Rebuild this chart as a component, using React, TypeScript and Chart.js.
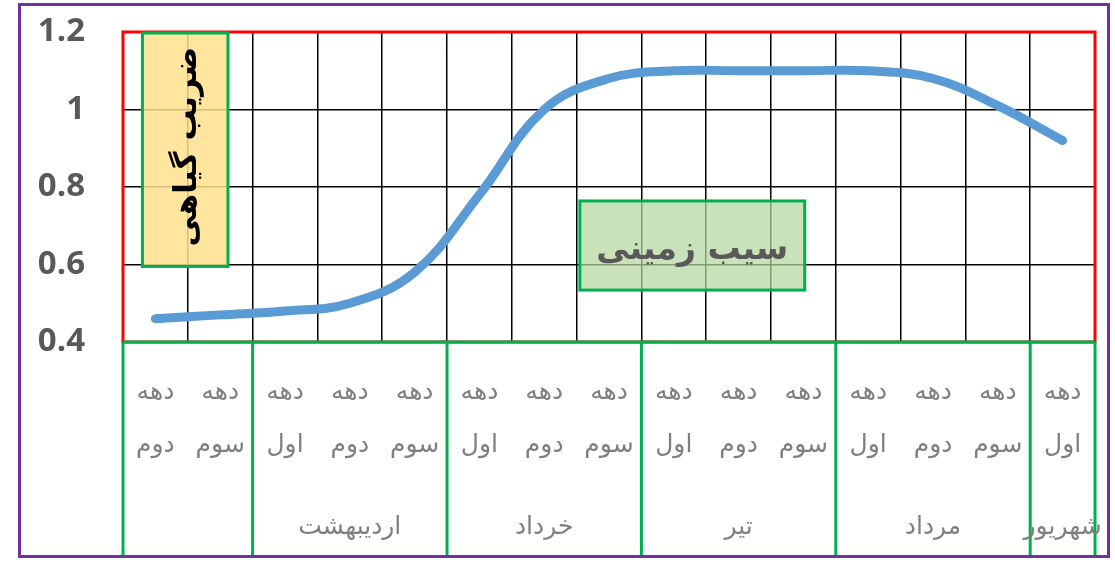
import React, { useEffect, useRef } from "react";
import { Chart, registerables } from "chart.js";
Chart.register(...registerables);

// ---- data ----
const decadeLabels: string[][] = [
  ["دهه", "دوم"], ["دهه", "سوم"],
  ["دهه", "اول"], ["دهه", "دوم"], ["دهه", "سوم"],
  ["دهه", "اول"], ["دهه", "دوم"], ["دهه", "سوم"],
  ["دهه", "اول"], ["دهه", "دوم"], ["دهه", "سوم"],
  ["دهه", "اول"], ["دهه", "دوم"], ["دهه", "سوم"],
  ["دهه", "اول"],
];
const monthNames: string[] = ["", "اردیبهشت", "خرداد", "تیر", "مرداد", "شهریور"];
const monthSpans: number[] = [2, 3, 3, 3, 3, 1];
const kcValues: number[] = [0.46, 0.47, 0.48, 0.5, 0.58, 0.78, 1.0, 1.08, 1.1, 1.1, 1.1, 1.1, 1.08, 1.01, 0.92];
const yTickLabels: string[] = ["0.4", "0.6", "0.8", "1", "1.2"];
const yAxisTitle = "ضریب گیاهی";
const cropName = "سیب زمینی";

const ARABIC_FONT = "'DejaVu Sans', sans-serif";

const decorPlugin = {
  id: "decor",
  beforeDatasetsDraw(chart: any) {
    const { ctx, chartArea: a } = chart;
    ctx.save();
    ctx.strokeStyle = "#FF0000";
    ctx.lineWidth = 3;
    ctx.strokeRect(a.left, a.top, a.right - a.left, a.bottom - a.top);
    ctx.restore();
  },
  afterDraw(chart: any) {
    const { ctx, chartArea: a } = chart;
    const xs = chart.scales.x;
    const ys = chart.scales.y;
    ctx.save();

    // yellow title box
    const yb = {
      l: xs.getPixelForValue(-0.2),
      r: xs.getPixelForValue(1.12),
      t: ys.getPixelForValue(1.2) + 1,
      b: ys.getPixelForValue(0.595),
    };
    ctx.fillStyle = "rgba(255, 224, 140, 0.85)";
    ctx.fillRect(yb.l, yb.t, yb.r - yb.l, yb.b - yb.t);
    ctx.strokeStyle = "#00B050";
    ctx.lineWidth = 3;
    ctx.strokeRect(yb.l, yb.t, yb.r - yb.l, yb.b - yb.t);
    ctx.save();
    ctx.translate((yb.l + yb.r) / 2 + 3, (yb.t + yb.b) / 2 - 3);
    ctx.rotate(-Math.PI / 2);
    ctx.fillStyle = "#000000";
    ctx.font = "bold 31px " + ARABIC_FONT;
    ctx.textAlign = "center";
    ctx.textBaseline = "middle";
    ctx.fillText(yAxisTitle, 0, 0);
    ctx.restore();

    // green crop box
    const gb = {
      l: xs.getPixelForValue(6.55),
      r: xs.getPixelForValue(10.02),
      t: ys.getPixelForValue(0.764),
      b: ys.getPixelForValue(0.534),
    };
    ctx.fillStyle = "rgba(180, 215, 160, 0.72)";
    ctx.fillRect(gb.l, gb.t, gb.r - gb.l, gb.b - gb.t);
    ctx.strokeStyle = "#00B050";
    ctx.lineWidth = 3;
    ctx.strokeRect(gb.l, gb.t, gb.r - gb.l, gb.b - gb.t);
    ctx.fillStyle = "#595959";
    ctx.font = "bold 33px " + ARABIC_FONT;
    ctx.textAlign = "center";
    ctx.textBaseline = "middle";
    ctx.fillText(cropName, (gb.l + gb.r) / 2, (gb.t + gb.b) / 2 + 5);

    // green group lines
    const bottomY = 555;
    ctx.strokeStyle = "#00B050";
    ctx.lineWidth = 3;
    ctx.beginPath();
    ctx.moveTo(a.left, a.bottom);
    ctx.lineTo(a.right, a.bottom);
    let idx = 0;
    const bounds: number[] = [0];
    monthSpans.forEach((s) => { idx += s; bounds.push(idx); });
    bounds.forEach((b) => {
      const px = xs.getPixelForValue(b - 0.5);
      ctx.moveTo(px, a.bottom);
      ctx.lineTo(px, bottomY);
    });
    ctx.stroke();

    // month labels
    ctx.fillStyle = "#7F7F7F";
    ctx.font = "25px " + ARABIC_FONT;
    ctx.textAlign = "center";
    ctx.textBaseline = "middle";
    let start = 0;
    monthNames.forEach((m, i) => {
      const c = start + (monthSpans[i] - 1) / 2;
      if (m) ctx.fillText(m, xs.getPixelForValue(c), 527);
      start += monthSpans[i];
    });

    // outer purple frame
    ctx.strokeStyle = "#7030A0";
    ctx.lineWidth = 3;
    ctx.strokeRect(19.5, 4.5, 1089, 552);
    ctx.restore();
  },
};

export default function App() {
  const ref = useRef<HTMLCanvasElement | null>(null);
  useEffect(() => {
    if (!ref.current) return;
    const chart = new Chart(ref.current, {
      type: "line",
      data: {
        labels: decadeLabels,
        datasets: [
          {
            data: kcValues,
            borderColor: "#5B9BD5",
            borderWidth: 9,
            borderCapStyle: "round",
            borderJoinStyle: "round",
            pointRadius: 0,
            tension: 0.4,
            fill: false,
          },
        ],
      },
      options: {
        animation: false,
        responsive: true,
        maintainAspectRatio: false,
        layout: { padding: { top: 32, right: 20, bottom: 0, left: 0 } },
        plugins: { legend: { display: false }, tooltip: { enabled: false } },
        scales: {
          x: {
            type: "category",
            offset: true,
            grid: { display: true, color: "#000000", lineWidth: 1.5, drawTicks: false, offset: true },
            border: { display: false },
            ticks: {
              autoSkip: false,
              maxRotation: 0,
              minRotation: 0,
              padding: 24,
              color: "#7F7F7F",
              font: { family: ARABIC_FONT, size: 25, lineHeight: 2.12 },
            },
            afterFit(axis: any) { axis.height = 563 - 342; },
          },
          y: {
            min: 0.4,
            max: 1.2,
            grid: { color: "#000000", lineWidth: 1.5, drawTicks: false },
            border: { display: false },
            ticks: {
              stepSize: 0.2,
              padding: 38,
              color: "#595959",
              font: { family: "'Open Sans', sans-serif", size: 33, weight: "bold" },
              callback: (_v: any, i: number) => yTickLabels[i],
            },
            afterFit(axis: any) {
              axis.width = 123;
              axis.paddingTop = 0;
              axis.paddingBottom = 0;
            },
          },
        },
      },
      plugins: [decorPlugin],
    });
    return () => chart.destroy();
  }, []);
  return (
    <div style={{ position: "absolute", left: 0, top: 0, width: 1115, height: 563, background: "#fff" }}>
      <canvas ref={ref} />
    </div>
  );
}
